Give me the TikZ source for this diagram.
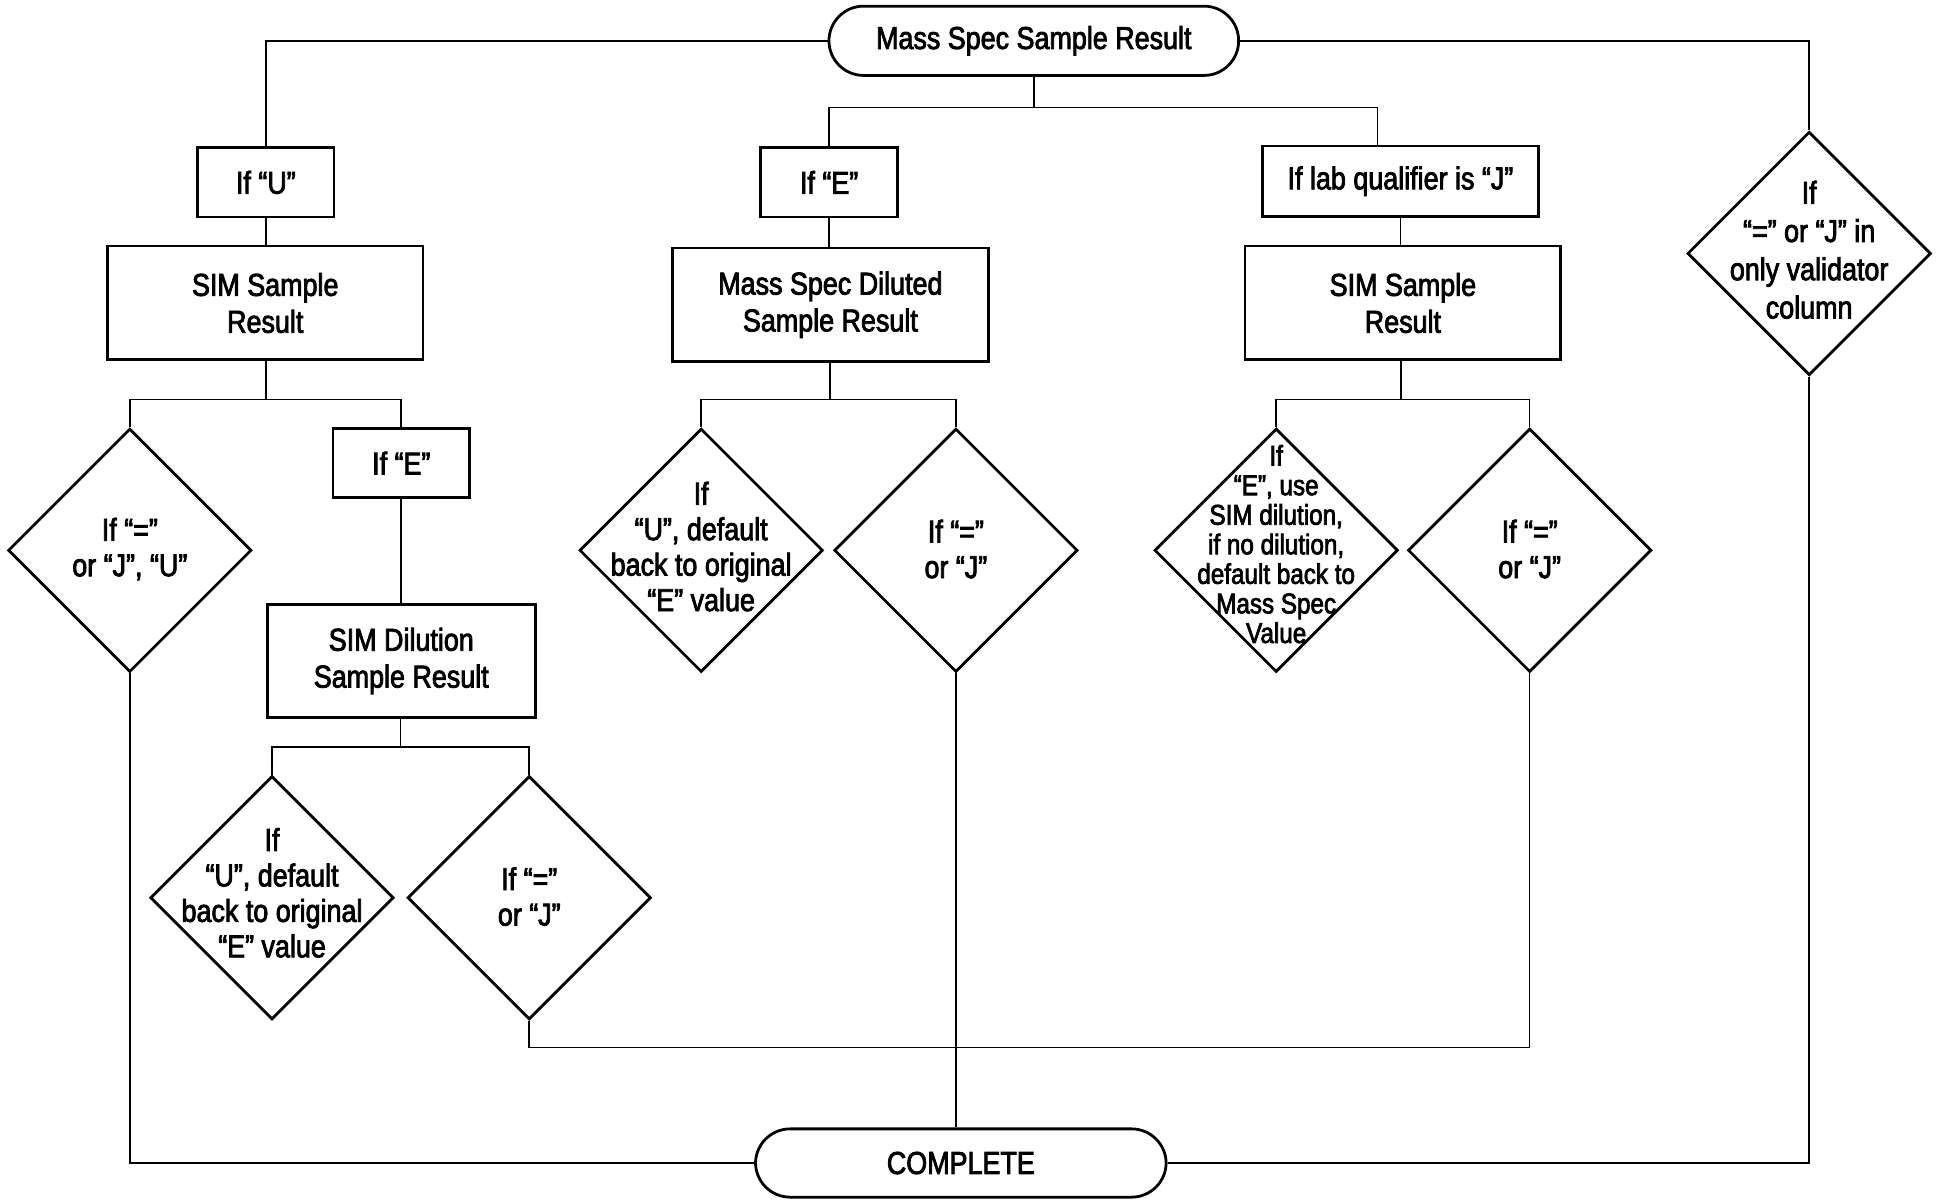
\documentclass[tikz,border=0pt]{standalone}
\usepackage{fontspec}
\setmainfont{Liberation Sans}[FakeStretch=0.85, FakeBold=2.5]
\usetikzlibrary{positioning, shapes, calc}

\tikzset{
  box/.style={draw, line width=0.8pt, inner sep=0pt, align=center,
    font=\fontsize{9.1}{10.6}\selectfont},
  smallbox/.style={box, minimum width=1.38cm, minimum height=0.70cm},
  bigbox/.style={box, minimum width=3.19cm, minimum height=1.15cm},
  term/.style={box, rounded corners=0.35cm, minimum width=4.14cm, minimum height=0.70cm},
  dia/.style={draw, diamond, line width=0.8pt, inner sep=0pt,
    minimum width=2.46cm, minimum height=2.46cm},
  dtxt/.style={align=center, inner sep=0pt, font=\fontsize{9.1}{10.2}\selectfont},
  wire/.style={line width=0.45pt},
}

\begin{document}
\begin{tikzpicture}[x=0.0125cm, y=-0.0125cm]
\useasboundingbox (0,0) rectangle (1568,970);

% start and end
\node[term] (msr) at (836,33) {Mass Spec Sample Result};
\node[term, minimum width=4.15cm, minimum height=0.69cm] (cpl) at (777,940.5) {COMPLETE};

% --- first level ---
\node[smallbox, minimum width=1.375cm] (ifu) at (215,147.5) {If “U”};
\node[smallbox] (ife1) at (670.5,147.5) {If “E”};
\node[box, minimum width=2.79cm, minimum height=0.71cm] (ifj) at (1132.5,146.5) {If lab qualifier is “J”};
\node[dia] (valid) at (1463,205) {};
\node[dtxt, font=\fontsize{9.1}{11}\selectfont] (validt) at (1463,202) {If\\“=” or “J” in\\only validator\\column};

\node[bigbox] (simL) at (214.5,245) {SIM Sample\\Result};
\node[bigbox] (msd) at (671.5,246.5) {Mass Spec Diluted\\Sample Result};
\node[bigbox] (simR) at (1134.5,245) {SIM Sample\\Result};

% --- left branch ---
\node[dia] (dL1) at (105,445) {};
\node[dtxt] (dL1t) at (105,444) {If “=”\\or “J”, “U”};
\node[smallbox] (ife2) at (324.5,374.5) {If “E”};
\node[box, minimum width=2.71cm, minimum height=1.14cm] (simdil) at (324.5,534.5) {SIM Dilution\\Sample Result};
\node[dia] (dL2) at (220,726) {};
\node[dtxt] (dL2t) at (220,722) {If\\“U”, default\\back to original\\“E” value};
\node[dia] (dL3) at (428,726) {};
\node[dtxt] (dL3t) at (428,725) {If “=”\\or “J”};

% --- middle branch ---
\node[dia] (dM1) at (567,445) {};
\node[dtxt] (dM1t) at (567,442) {If\\“U”, default\\back to original\\“E” value};
\node[dia] (dM2) at (773,445) {};
\node[dtxt] (dM2t) at (773,444) {If “=”\\or “J”};

% --- right branch ---
\node[dia] (dR1) at (1032,445) {};
\node[dtxt, font=\fontsize{8.2}{8.5}\selectfont] (dR1t) at (1032,440) {If\\“E”, use\\SIM dilution,\\if no dilution,\\default back to\\Mass Spec\\Value};
\node[dia] (dR2) at (1237,445) {};
\node[dtxt] (dR2t) at (1237,444) {If “=”\\or “J”};

% split points
\coordinate (splitT) at (836,87);
\coordinate (jtop) at (1114,118);
\coordinate (splitL) at (215,323);
\coordinate (splitM) at (671,323);
\coordinate (splitR) at (1133,323);
\coordinate (splitD) at (324,604);
\coordinate (joinB) at (773,847);

% connectors
\draw[wire] (msr.west) -| (ifu.north);
\draw[wire] (msr.east) -| (valid.north);
\draw[wire] (msr.south) -- (splitT);
\draw[wire] (ife1.north) |- (splitT) -| (jtop);

\draw[wire] (ifu.south) -- (ifu.south |- simL.north);
\draw[wire] (ife1.south) -- (ife1.south |- msd.north);
\draw[wire] (ifj.south) -- (ifj.south |- simR.north);

\draw[wire] (splitL |- simL.south) -- (splitL);
\draw[wire] (dL1.north) |- (splitL) -| (ife2.north);
\draw[wire] (ife2.south) -- (ife2.south |- simdil.north);
\draw[wire] (splitD |- simdil.south) -- (splitD);
\draw[wire] (dL2.north) |- (splitD) -| (dL3.north);

\draw[wire] (splitM |- msd.south) -- (splitM);
\draw[wire] (dM1.north) |- (splitM) -| (dM2.north);

\draw[wire] (splitR |- simR.south) -- (splitR);
\draw[wire] (dR1.north) |- (splitR) -| (dR2.north);

% to COMPLETE
\draw[wire] (dL3.south) |- (joinB) -| (dR2.south);
\draw[wire] (dM2.south) -- (dM2.south |- cpl.north);
\draw[wire] (dL1.south) |- (cpl.west);
\draw[wire] (valid.south) |- (cpl.east);

\end{tikzpicture}
\end{document}
